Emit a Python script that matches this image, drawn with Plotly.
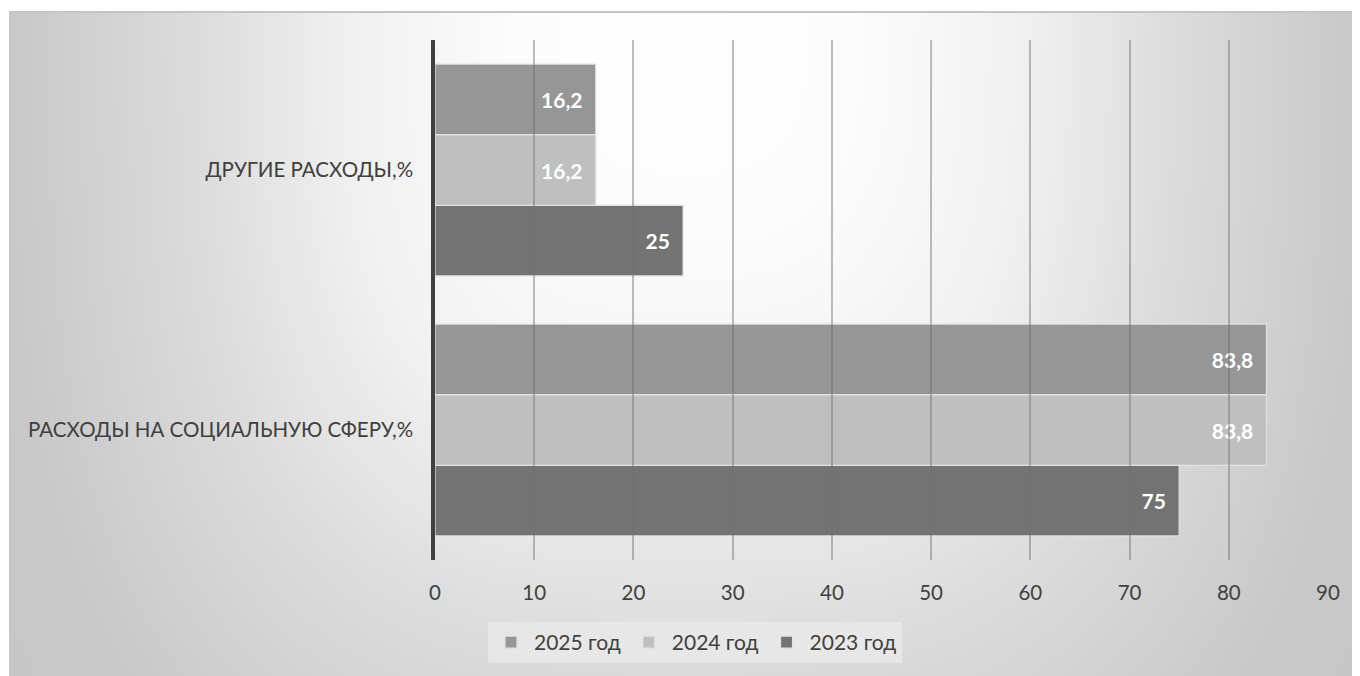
import base64
import struct
import zlib
import numpy as np
import plotly.graph_objects as go

categories = ["РАСХОДЫ НА СОЦИАЛЬНУЮ СФЕРУ,%", "ДРУГИЕ РАСХОДЫ,%"]
series_names = ["2023 год", "2024 год", "2025 год"]
values_2023 = [75, 25]
values_2024 = [83.8, 16.2]
values_2025 = [83.8, 16.2]
x_ticks = [0, 10, 20, 30, 40, 50, 60, 70, 80, 90]

series_values = [values_2023, values_2024, values_2025]
colors = ["#737373", "#bfbfbf", "#969696"]

# page body has an 8px margin, so the figure is laid out 8px smaller
W, H = 1352, 668
L, R, T, B = 427, 32, 32, 116
pw, ph = W - L - R, H - T - B

FONT = "Lato"
TXT = "#404040"
PAD = "\u00a0\u00a0"


def png_gray(arr):
    h, w = arr.shape
    raw = b"".join(b"\x00" + arr[i].tobytes() for i in range(h))

    def chunk(t, d):
        return struct.pack(">I", len(d)) + t + d + struct.pack(">I", zlib.crc32(t + d) & 0xFFFFFFFF)

    return (b"\x89PNG\r\n\x1a\n"
            + chunk(b"IHDR", struct.pack(">IIBBBBB", w, h, 8, 0, 0, 0, 0))
            + chunk(b"IDAT", zlib.compress(raw, 9))
            + chunk(b"IEND", b""))


# background: soft gradient, lightest at the top centre, grey towards the edges
IW, IH = 1351, 665
yy, xx = np.mgrid[0:IH, 0:IW].astype(float)
p = 3.0
t = (np.abs((xx - 676) / 675.0) ** p + np.abs(yy / 880.0) ** p) ** (1 / p)
bg = np.interp(t, [0, 0.25, 0.5, 0.72, 1.0, 1.2], [254, 252, 240, 220, 200, 197])
bg[0:2, :] = 196
bg[:, 0:2] = 196
bg = np.clip(np.round(bg), 0, 255).astype(np.uint8)
src = "data:image/png;base64," + base64.b64encode(png_gray(bg)).decode()

fig = go.Figure()
for name, vals, col in zip(series_names, series_values, colors):
    fig.add_trace(go.Bar(
        y=categories, x=vals, name=name, orientation="h",
        marker=dict(color=col, line=dict(color="#e2e2e2", width=1.2)),
        text=[str(v).replace(".", ",") + PAD for v in vals],
        textposition="inside", insidetextanchor="end",
        textfont=dict(family=FONT, size=21, color="white", weight="bold"),
        cliponaxis=False,
    ))

px0, py0 = 1, 3
fig.add_layout_image(dict(
    source=src, xref="paper", yref="paper",
    x=(px0 - L) / pw, y=(H - B - py0) / ph,
    sizex=IW / pw, sizey=IH / ph,
    xanchor="left", yanchor="top", sizing="stretch", layer="below",
))

fig.update_layout(
    width=W, height=H,
    margin=dict(l=L, r=R, t=T, b=B),
    paper_bgcolor="white", plot_bgcolor="rgba(0,0,0,0)",
    barmode="group", bargap=0.185, bargroupgap=0,
    font=dict(family=FONT, size=20, color=TXT),
    showlegend=True,
    legend=dict(
        orientation="h", traceorder="reversed",
        x=(687 - L) / pw, xanchor="center", y=(H - B - 614) / ph, yanchor="top",
        bgcolor="rgba(238,238,238,0.6)", font=dict(family=FONT, size=21, color=TXT),
        itemwidth=36, tracegroupgap=0,
    ),
    xaxis=dict(
        range=[0, 90], tickvals=x_ticks, ticktext=[str(v) for v in x_ticks],
        showgrid=False, zeroline=False, showline=False,
        ticks="inside", ticklen=ph, tickwidth=1.5, tickcolor="rgba(110,110,110,0.45)",
        layer="above traces", tickfont=dict(size=20.5, color=TXT), ticklabelstandoff=18,
        fixedrange=True,
    ),
    yaxis=dict(
        showgrid=False, zeroline=False, showline=True, linewidth=3.5, linecolor="#404040",
        ticks="", ticklabelstandoff=14, layer="above traces",
        tickfont=dict(size=20.5, color=TXT), fixedrange=True,
    ),
)

fig.write_html("out.html")
